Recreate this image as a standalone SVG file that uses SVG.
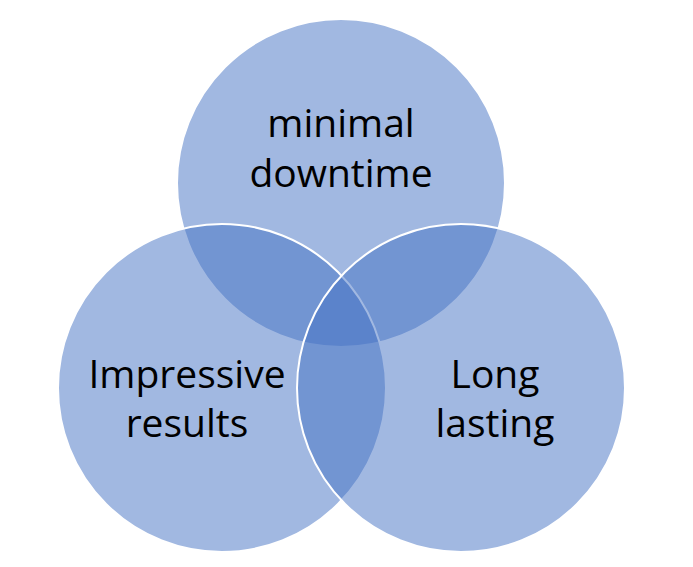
<svg xmlns="http://www.w3.org/2000/svg" width="693" height="567" viewBox="0 0 693 567">
<style>
.c{fill:#4472C4;fill-opacity:0.5;stroke:#fff;stroke-width:2}
.t{font-family:"Open Sans","Liberation Sans",sans-serif;font-size:39px;fill:#000;text-anchor:middle}
</style>
<rect width="693" height="567" fill="#fff"/>
<g id="connectors"></g>
<g id="top"><circle class="c" cx="341" cy="183" r="164"/></g>
<g id="left"><circle class="c" cx="222" cy="388" r="164"/></g>
<g id="right"><circle class="c" cx="461" cy="388" r="164"/></g>
<g id="labels">
<text class="t" x="341" y="137">minimal</text>
<text class="t" x="341" y="187">downtime</text>
<text class="t" x="187" y="388">Impressive</text>
<text class="t" x="187" y="437">results</text>
<text class="t" x="495" y="388">Long</text>
<text class="t" x="495" y="437">lasting</text>
</g>
</svg>
